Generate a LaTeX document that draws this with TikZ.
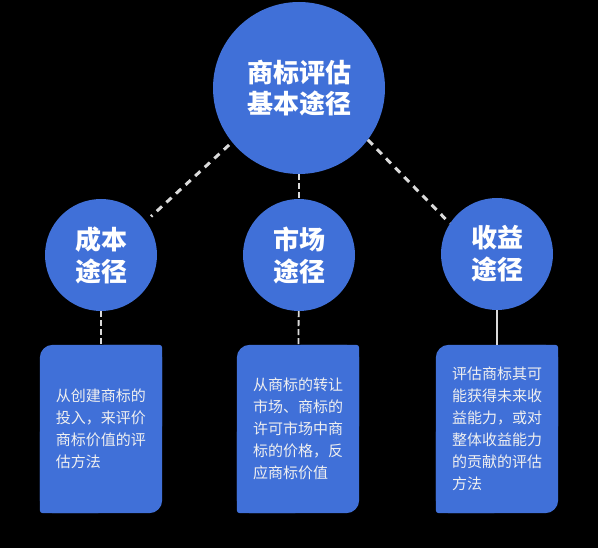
\documentclass[tikz,border=0pt]{standalone}
\usepackage{fontspec}
\setmainfont{Noto Sans CJK SC}
\usetikzlibrary{positioning,backgrounds}
\definecolor{wayblue}{RGB}{64,112,216}
\definecolor{linkgray}{RGB}{218,218,218}

\begin{document}
\begin{tikzpicture}[x=1pt, y=-1pt,
  hub/.style={circle, fill=wayblue, minimum size=172pt, inner sep=0pt, align=center,
              text=white, font=\fontsize{26}{31}\selectfont\bfseries},
  way/.style={circle, fill=wayblue, minimum size=112pt, inner sep=0pt, align=center,
              text=white, font=\fontsize{26}{32}\selectfont\bfseries},
  desc/.style={minimum width=122pt, minimum height=168pt, inner sep=0pt, align=left,
               text=white!94!black, font=\fontsize{15}{22}\selectfont},
  link/.style={draw=linkgray, line width=3pt, dash pattern=on 7pt off 6pt},
  drop/.style={draw=linkgray, line width=1.8pt, dash pattern=on 6pt off 3pt},
  wire/.style={draw=linkgray, line width=1.5pt},
]
\useasboundingbox (0,0) rectangle (598,548);

% Top: main topic
\node[hub] (hub) at (299,88) {商标评估\\基本途径};

% Middle: three approaches
\node[way] (cost)   at (101,255) {成本\\途径};
\node[way] (market) at (299,255) {市场\\途径};
\node[way] (yield)  at (497,254) {收益\\途径};

% Bottom: descriptions
\node[desc] (d1) at (101,429) {从创建商标的\\投入，来评价\\商标价值的评\\估方法};
\node[desc] (d2) at (298,429) {从商标的转让\\市场、商标的\\许可市场中商\\标的价格，反\\应商标价值};
\node[desc] (d3) at (497,429) {评估商标其可\\能获得未来收\\益能力，或对\\整体收益能力\\的贡献的评估\\方法};

\draw[link, shorten <=4pt, shorten >=7pt] (hub.219) -- (cost.37);
\draw[drop] (hub) -- (market);
\draw[link] (hub.323) -- (yield.147);

\draw[drop] (cost) -- (d1);
\draw[drop] (market) -- (d2);
\draw[wire] (yield) -- (d3);

\begin{scope}[on background layer]
  \fill[black] (0,0) rectangle (598,548);
  % big rounding top-left / bottom-right, small on the other two
  \foreach \b in {d1,d2,d3}{
    \fill[wayblue, rounded corners=13pt] (\b.south west) rectangle (\b.north east);
    \fill[wayblue, rounded corners=3pt] (\b.north) rectangle (\b.east);
    \fill[wayblue, rounded corners=3pt] (\b.south) rectangle (\b.west);
  }
\end{scope}
\end{tikzpicture}
\end{document}
